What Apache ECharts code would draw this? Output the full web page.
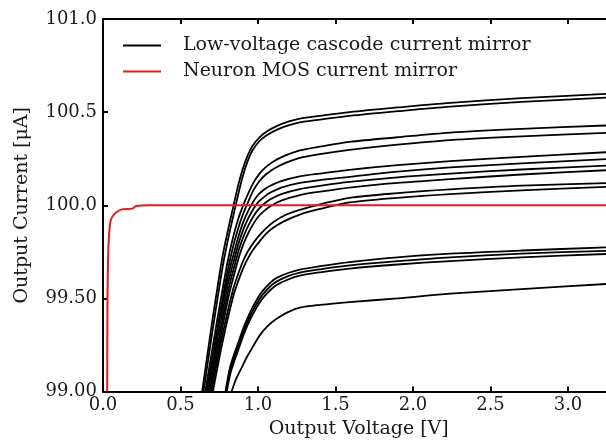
<!DOCTYPE html>
<html>
<head>
<meta charset="utf-8">
<script src="https://cdn.jsdelivr.net/npm/echarts@6/dist/echarts.min.js"></script>
<style>html,body{margin:0;padding:0;background:#fff;}#c{width:606px;height:445px;}</style>
</head>
<body>
<div id="c"></div>
<script>
// ---- tick labels ----
const xTickValues = [0, 0.5, 1.0, 1.5, 2.0, 2.5, 3.0];
const xTickLabels = ['0.0', '0.5', '1.0', '1.5', '2.0', '2.5', '3.0'];
const yTickValues = [99.0, 99.5, 100.0, 100.5, 101.0];
const yTickLabels = ['99.00', '99.50', '100.0', '100.5', '101.0'];

const seriesNames = ['Low-voltage cascode current mirror', 'Neuron MOS current mirror'];

// ---- Low-voltage cascode current mirror (black curves) ----
const vA  = [0.64, 0.70, 0.77, 0.81, 0.84, 0.87, 0.90, 0.935, 0.965, 1.01, 1.054, 1.12, 1.2, 1.27, 1.4, 1.59, 1.9, 2.24, 2.7, 3.3];
const iA1 = [99.0, 99.35, 99.72, 99.88, 99.99, 100.10, 100.19, 100.27, 100.32, 100.365, 100.395, 100.425, 100.45, 100.465, 100.48, 100.50, 100.525, 100.55, 100.575, 100.60];
const iA2 = [98.95, 99.29, 99.66, 99.83, 99.94, 100.05, 100.15, 100.24, 100.295, 100.345, 100.375, 100.405, 100.43, 100.445, 100.46, 100.48, 100.505, 100.53, 100.555, 100.58];

const vB  = [0.66, 0.73, 0.80, 0.84, 0.87, 0.90, 0.93, 0.97, 1.01, 1.05, 1.10, 1.17, 1.27, 1.4, 1.59, 1.9, 2.24, 2.7, 3.3];
const iB1 = [99.0, 99.35, 99.68, 99.83, 99.92, 99.99, 100.05, 100.12, 100.17, 100.205, 100.235, 100.265, 100.295, 100.315, 100.34, 100.365, 100.39, 100.41, 100.43];
const iB2 = [98.95, 99.30, 99.63, 99.78, 99.87, 99.945, 100.005, 100.08, 100.13, 100.165, 100.195, 100.225, 100.255, 100.275, 100.297, 100.325, 100.35, 100.37, 100.39];

const vC  = [0.67, 0.74, 0.81, 0.85, 0.88, 0.91, 0.94, 0.97, 1.00, 1.04, 1.08, 1.15, 1.27, 1.4, 1.59, 1.9, 2.24, 2.7, 3.3];
const iC1 = [99.0, 99.33, 99.63, 99.76, 99.85, 99.92, 99.975, 100.02, 100.055, 100.085, 100.105, 100.13, 100.155, 100.17, 100.19, 100.215, 100.237, 100.26, 100.287];
const iC2 = [98.96, 99.29, 99.59, 99.72, 99.81, 99.88, 99.935, 99.98, 100.015, 100.045, 100.068, 100.095, 100.12, 100.135, 100.152, 100.18, 100.203, 100.225, 100.25];
const iC3 = [98.92, 99.25, 99.55, 99.68, 99.77, 99.84, 99.895, 99.94, 99.975, 100.008, 100.032, 100.06, 100.087, 100.104, 100.125, 100.15, 100.17, 100.192, 100.215];
const iC4 = [98.88, 99.21, 99.51, 99.64, 99.73, 99.80, 99.855, 99.90, 99.937, 99.97, 99.995, 100.025, 100.055, 100.073, 100.095, 100.12, 100.14, 100.165, 100.19];

const vD  = [0.70, 0.77, 0.84, 0.88, 0.92, 0.96, 1.00, 1.05, 1.10, 1.17, 1.27, 1.4, 1.59, 1.9, 2.24, 2.7, 3.3];
const iD1 = [99.0, 99.30, 99.55, 99.65, 99.73, 99.785, 99.83, 99.875, 99.91, 99.945, 99.975, 100.005, 100.04, 100.065, 100.085, 100.105, 100.12];
const iD2 = [98.96, 99.26, 99.51, 99.61, 99.69, 99.75, 99.795, 99.845, 99.88, 99.915, 99.95, 99.98, 100.015, 100.04, 100.06, 100.08, 100.10];

const vE  = [0.79, 0.82, 0.85, 0.88, 0.91, 0.946, 0.99, 1.03, 1.08, 1.12, 1.19, 1.27, 1.4, 1.59, 1.9, 2.24, 2.7, 3.3];
const iE1 = [99.0, 99.13, 99.21, 99.28, 99.35, 99.42, 99.49, 99.54, 99.585, 99.61, 99.635, 99.655, 99.673, 99.695, 99.72, 99.74, 99.757, 99.775];
const iE2 = [98.98, 99.11, 99.19, 99.26, 99.33, 99.40, 99.47, 99.52, 99.565, 99.59, 99.618, 99.638, 99.656, 99.677, 99.70, 99.72, 99.74, 99.757];
const iE3 = [98.96, 99.09, 99.17, 99.24, 99.31, 99.38, 99.45, 99.50, 99.545, 99.572, 99.60, 99.622, 99.64, 99.66, 99.682, 99.70, 99.72, 99.74];

const vF  = [0.83, 0.86, 0.89, 0.925, 0.96, 1.01, 1.06, 1.12, 1.19, 1.27, 1.4, 1.59, 1.9, 2.24, 2.7, 3.3];
const iF  = [99.0, 99.07, 99.12, 99.18, 99.23, 99.30, 99.35, 99.39, 99.425, 99.45, 99.465, 99.48, 99.50, 99.525, 99.55, 99.58];

// ---- Neuron MOS current mirror (red curve) ----
const vRed = [0.027, 0.029, 0.033, 0.04, 0.05, 0.076, 0.12, 0.19, 0.21, 0.3, 3.3];
const iRed = [99.0, 99.5, 99.72, 99.85, 99.92, 99.955, 99.978, 99.982, 99.995, 100.0, 100.0];

const blackCurves = [
  [vA, iA1], [vA, iA2], [vB, iB1], [vB, iB2],
  [vC, iC1], [vC, iC2], [vC, iC3], [vC, iC4],
  [vD, iD1], [vD, iD2], [vE, iE1], [vE, iE2], [vE, iE3], [vF, iF]
];

function pairs(v, i) { return v.map((x, k) => [x, i[k]]); }
function lookup(vals, labels, v) {
  const k = vals.findIndex(t => Math.abs(t - v) < 1e-6);
  return k >= 0 ? labels[k] : '';
}

const FONT = 'DejaVu Serif';
const TXT = '#1a1a1a';

const series = blackCurves.map(c => ({
  name: seriesNames[0], type: 'line', data: pairs(c[0], c[1]),
  showSymbol: false, smooth: 0.3, color: '#000',
  lineStyle: { color: '#000', width: 1.8 }, silent: true, animation: false, z: 2
}));
series.push({
  name: seriesNames[1], type: 'line', data: pairs(vRed, iRed),
  showSymbol: false, smooth: 0.2, color: '#e41a1c',
  lineStyle: { color: '#e41a1c', width: 2 }, silent: true, animation: false, z: 3
});

const axisCommonX = {
  type: 'value', min: 0, max: 3.3, interval: 0.5,
  axisLine: { show: true, onZero: false, lineStyle: { color: '#000', width: 2 } },
  axisTick: { show: true, inside: true, length: 5, lineStyle: { color: '#000', width: 2 } },
  splitLine: { show: false }
};
const axisCommonY = {
  type: 'value', min: 99, max: 101, interval: 0.5,
  axisLine: { show: true, onZero: false, lineStyle: { color: '#000', width: 2 } },
  axisTick: { show: true, inside: true, length: 5, lineStyle: { color: '#000', width: 2 } },
  splitLine: { show: false }
};

const chart = echarts.init(document.getElementById('c'), null, { renderer: 'canvas' });
chart.setOption({
  backgroundColor: '#fff',
  animation: false,
  grid: { left: 103, top: 19, width: 511.5, height: 372.5, containLabel: false, outerBoundsMode: 'none' },
  legend: {
    data: seriesNames, orient: 'vertical', left: 123, top: 36, padding: 0, itemGap: 7,
    icon: 'rect', itemWidth: 38, itemHeight: 2,
    textStyle: { fontFamily: FONT, fontSize: 19, color: TXT, padding: [0, 0, 0, 17] },
    selectedMode: false
  },
  xAxis: [
    Object.assign({}, axisCommonX, {
      position: 'bottom',
      axisLabel: { show: true, fontFamily: FONT, fontSize: 18, color: TXT, margin: 5,
        formatter: v => lookup(xTickValues, xTickLabels, v) },
      name: 'Output Voltage [V]', nameLocation: 'middle', nameGap: 28,
      nameTextStyle: { fontFamily: FONT, fontSize: 19, color: TXT }
    }),
    Object.assign({}, axisCommonX, { position: 'top', axisLabel: { show: false } })
  ],
  yAxis: [
    Object.assign({}, axisCommonY, {
      position: 'left',
      axisLabel: { show: true, fontFamily: FONT, fontSize: 18, color: TXT, margin: 6,
        formatter: v => lookup(yTickValues, yTickLabels, v) },
      name: 'Output Current [μA]', nameLocation: 'middle', nameGap: 71,
      nameTextStyle: { fontFamily: FONT, fontSize: 19, color: TXT }
    }),
    Object.assign({}, axisCommonY, { position: 'right', axisLabel: { show: false } })
  ],
  series: series
});
</script>
</body>
</html>
